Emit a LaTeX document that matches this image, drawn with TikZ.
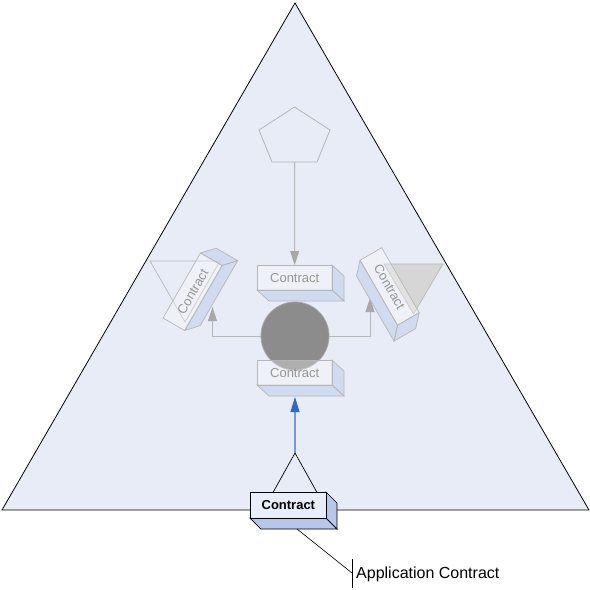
\documentclass[tikz,border=0pt]{standalone}
\usepackage{fontspec}
\setmainfont{Liberation Sans}
\usetikzlibrary{arrows.meta}
\definecolor{bgtri}{RGB}{232,236,246}
\definecolor{fadeedge}{RGB}{182,182,182}
\definecolor{fadeside}{RGB}{198,212,238}
\definecolor{fadetext}{RGB}{150,150,150}
\definecolor{hubfill}{RGB}{140,140,140}
\definecolor{hubedge}{RGB}{165,165,165}
\definecolor{grayline}{RGB}{182,182,182}
\definecolor{grayhead}{RGB}{168,168,168}
\definecolor{tritwo}{RGB}{214,214,214}
\definecolor{appfront}{RGB}{232,238,250}
\definecolor{appside}{RGB}{182,199,232}
\definecolor{blueline}{RGB}{120,150,215}
\definecolor{bluehead}{RGB}{52,102,200}
\tikzset{
  fadeface/.style={draw=fadeedge,line width=0.7pt,fill=white,fill opacity=0.3,draw opacity=1},
  fadesideface/.style={draw=fadeedge,line width=0.7pt,fill=fadeside,fill opacity=0.7,draw opacity=1},
  fadelabel/.style={text=fadetext,text opacity=1,font=\fontsize{13}{15}\selectfont,
    minimum width=75pt,minimum height=25pt,inner sep=0pt,anchor=north west},
  grayarrow/.style={draw=grayline,line width=1pt,-{Triangle[length=14pt,width=9pt,fill=grayhead,color=grayhead]}},
  appface/.style={draw=black,line width=0.7pt,fill=appfront},
  appsideface/.style={draw=black,line width=0.7pt,fill=appside},
}
\newcommand{\fadesides}{%
  \path[fadesideface] (75,0) -- (87,11) -- (87,36) -- (75,25) -- cycle;
  \path[fadesideface] (0,25) -- (75,25) -- (87,36) -- (12,36) -- cycle;
  \path[fadeface] (0,0) rectangle (75,25);
}
\begin{document}
\begin{tikzpicture}[x=1pt,y=-1pt]
\useasboundingbox (0,0) rectangle (590,590);
% big triangle
\coordinate (apex) at (295,3);
\coordinate (bl) at (2,510);
\coordinate (br) at (589,510);
\draw[fill=bgtri,line width=0.8pt] (apex) -- (br) -- (bl) -- cycle;
% pentagon
\coordinate (pT) at (294.5,107);
\coordinate (pR) at (330,130);
\coordinate (pBR) at (317,162);
\coordinate (pBL) at (272,162);
\coordinate (pL) at (259,130);
\coordinate (pentB) at (294.5,162);
\draw[draw=fadeedge,line width=0.8pt] (pT) -- (pR) -- (pBR) -- (pBL) -- (pL) -- cycle;
% left triangle (outline)
\coordinate (lt1) at (150,261);
\coordinate (lt2) at (220,261);
\coordinate (lt3) at (185,322);
\draw[draw=fadeedge,line width=0.7pt] (lt1) -- (lt2) -- (lt3) -- cycle;
% right triangle (filled)
\coordinate (rt1) at (384,264);
\coordinate (rt2) at (443,264);
\coordinate (rt3) at (413.5,314);
\draw[draw=fadeedge,fill=tritwo,line width=0.7pt] (rt1) -- (rt2) -- (rt3) -- cycle;
% hub circle
\node[circle,fill=hubfill,draw=hubedge,line width=0.8pt,minimum size=68pt,inner sep=0pt] (hub) at (295,336) {};
% connectors
\coordinate (ltip) at (212.5,307);
\coordinate (rtip) at (370,298);
\draw[grayarrow] (hub.west) -| (ltip);
\draw[grayarrow] (hub.east) -| (rtip);
% top box
\begin{scope}[shift={(257,265)}]
\fadesides
\node[fadelabel] (topbox) at (0,0) {Contract};
\end{scope}
\draw[grayarrow] (pentB) -- (topbox.north);
% lower box
\begin{scope}[shift={(257,360)}]
\fadesides
\node[fadelabel] (lowbox) at (0,0) {Contract};
\end{scope}
% left rotated box
\begin{scope}[shift={(163,318)},rotate=60]
\fadesides
\node[fadelabel,rotate=60] (leftbox) at (0,0) {Contract};
\end{scope}
% right rotated box
\begin{scope}[shift={(381.7,247.7)},rotate=-60]
\fadesides
\node[fadelabel,rotate=-60] (rightbox) at (0,0) {Contract};
\end{scope}
% bottom small triangle
\coordinate (sA) at (295,453);
\coordinate (sL) at (266,505);
\coordinate (sR) at (324,505);
\draw[line width=0.7pt] (sL) -- (sA) -- (sR);
% blue arrow
\coordinate (lowtip) at (295,397);
\draw[draw=blueline,line width=1.2pt,-{Triangle[length=15pt,width=9pt,color=bluehead]}] (sA) -- (lowtip);
% application contract box
\begin{scope}[shift={(250,492)}]
\path[appsideface] (76,0) -- (87,11) -- (87,37) -- (76,26) -- cycle;
\path[appsideface] (0,26) -- (76,26) -- (87,37) -- (11,37) -- cycle;
\node[appface,minimum width=76pt,minimum height=26pt,inner sep=0pt,anchor=north west,
  font=\bfseries\fontsize{13}{15}\selectfont] (appbox) at (0,0) {Contract};
\end{scope}
% leader and label
\coordinate (lead1) at (297,529);
\coordinate (lead2) at (352,573);
\coordinate (barT) at (352,559);
\coordinate (barB) at (352,588);
\draw[line width=0.6pt] (lead1) -- (lead2);
\draw[line width=0.8pt] (barT) -- (barB);
\node[anchor=west,inner sep=0pt,font=\fontsize{16}{18}\selectfont] (applabel) at (356,574) {Application Contract};
\end{tikzpicture}
\end{document}
